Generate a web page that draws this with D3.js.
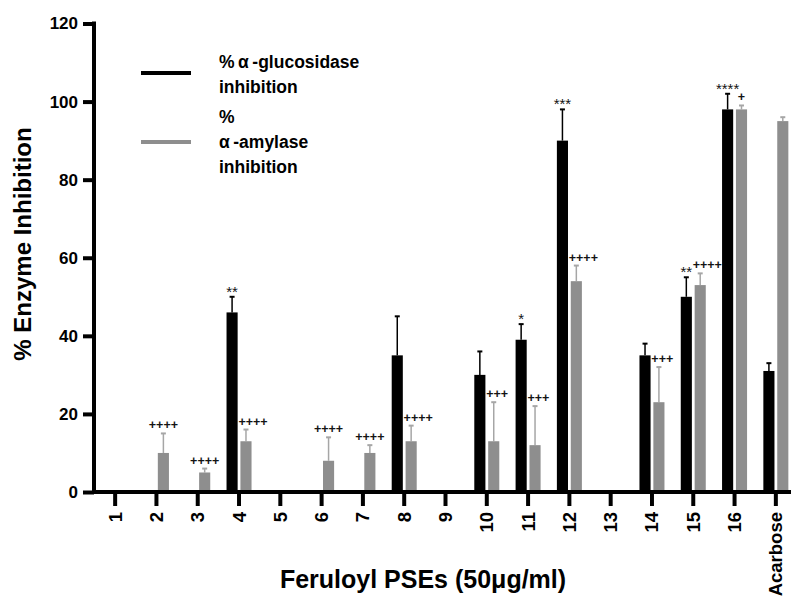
<!DOCTYPE html>
<html>
<head>
<meta charset="utf-8">
<script src="https://cdn.jsdelivr.net/npm/d3@7"></script>
<style>
body{margin:0;background:#fff;}
text{font-family:"Liberation Sans",Arial,sans-serif;}
</style>
</head>
<body>
<script>
var w=791;
var h=597;

// data
var categories=["1","2","3","4","5","6","7","8","9","10","11","12","13","14","15","16","Acarbose"];
var series=["glucosidase","amylase"];
var glucMean=[0,0,0,46,0,0,0,35,0,30,39,90,0,35,50,98,31];
var glucErr =[0,0,0,4,0,0,0,10,0,6,4,8,0,3,5,4,2];
var amyMean =[0,10,5,13,0,8,10,13,0,13,12,54,0,23,53,98,95];
var amyErr  =[0,5,1,3,0,6,2,4,0,10,10,4,0,9,3,1,1];
var glucMarks=["","","","**","","","","","","","*","***","","","**","****",""];
var amyMarks =["","++++","++++","++++","","++++","++++","++++","","+++","+++","++++","","+++","++++","+",""];
var yTicks=[0,20,40,60,80,100,120];

var colors={glucosidase:"#000",amylase:"#8e8e8e"};
var errColors={glucosidase:"#000",amylase:"#a6a6a6"};

var svg=d3.select("body").append("svg")
	.attr("width",w)
	.attr("height",h);

var y=d3.scaleLinear().domain([0,120]).range([492,23.5]);
var x=d3.scaleBand().domain(categories).range([94.5,796.5]).padding(0);
var xs=d3.scaleBand().domain(series).range([-12.5,12.5]).paddingInner(0.2);

// build rows for bars
var rows=[];
categories.forEach(function(c,i){
	rows.push({cat:c,s:"glucosidase",v:glucMean[i],e:glucErr[i],m:glucMarks[i],pair:amyMean[i]>0});
	rows.push({cat:c,s:"amylase",v:amyMean[i],e:amyErr[i],m:amyMarks[i],pair:glucMean[i]>0});
});
var shown=rows.filter(function(d){return d.v>0;});

function left(d){ return x(d.cat)+x.bandwidth()/2+xs(d.s); }
function cx(d){ return left(d)+xs.bandwidth()/2; }

// error bars under bars
var eb=svg.append("g").attr("id","errors");
eb.selectAll("line.v").data(shown).enter().append("line")
	.attr("x1",cx).attr("x2",cx)
	.attr("y1",function(d){return y(d.v);})
	.attr("y2",function(d){return y(d.v+d.e);})
	.attr("stroke",function(d){return errColors[d.s];})
	.attr("stroke-width",1.5);
eb.selectAll("line.c").data(shown).enter().append("line")
	.attr("x1",function(d){return cx(d)-2.5;})
	.attr("x2",function(d){return cx(d)+2.5;})
	.attr("y1",function(d){return y(d.v+d.e);})
	.attr("y2",function(d){return y(d.v+d.e);})
	.attr("stroke",function(d){return errColors[d.s];})
	.attr("stroke-width",2);

svg.append("g").attr("id","bars").selectAll("rect").data(shown).enter().append("rect")
	.attr("x",left)
	.attr("width",xs.bandwidth())
	.attr("y",function(d){return y(d.v);})
	.attr("height",function(d){return y(0)-y(d.v);})
	.attr("fill",function(d){return colors[d.s];});

// significance marks (plus signs next to a black bar start at the grey bar)
svg.append("g").attr("id","marks").style("opacity",0.99)
	.selectAll("text").data(shown.filter(function(d){return d.m;})).enter().append("text")
	.each(function(d){
		var plus=d.m.charAt(0)=="+";
		var shift=plus && d.pair && d.m.length>1;
		d3.select(this)
			.attr("x",shift?left(d)-2:cx(d))
			.attr("y",y(d.v+d.e)-(plus?4:0))
			.attr("text-anchor",shift?"start":"middle")
			.attr("font-size",plus?12.5:15)
			.attr("font-weight",plus?"bold":"normal")
			.text(d.m);
	})
	.attr("fill","#111");

// axes
var yAxis=svg.append("g").attr("transform","translate(94,0)")
	.call(d3.axisLeft(y).tickValues(yTicks).tickSize(11).tickSizeOuter(0).tickPadding(5));
yAxis.select(".domain").attr("stroke-width",4).attr("d","M0,"+(y(120)-2)+"V"+(y(0)+2));
yAxis.selectAll(".tick line").attr("stroke-width",4);
yAxis.selectAll(".tick text").attr("font-size",17).attr("font-weight","bold")
	.attr("font-family","Liberation Sans, Arial, sans-serif").attr("fill","#000");

var xAxis=svg.append("g").attr("transform","translate(0,"+y(0)+")")
	.call(d3.axisBottom(x).tickSize(14).tickSizeOuter(0));
xAxis.select(".domain").remove();
xAxis.selectAll(".tick line").attr("stroke-width",4);
xAxis.selectAll(".tick text")
	.attr("font-size",18.5).attr("font-weight","bold")
	.attr("font-family","Liberation Sans, Arial, sans-serif").attr("fill","#000")
	.attr("text-anchor","end")
	.attr("transform","rotate(-90)")
	.attr("x",-20).attr("y",0).attr("dy","0.35em");
svg.append("line").attr("x1",92).attr("x2",w)
	.attr("y1",y(0)).attr("y2",y(0))
	.attr("stroke","#000").attr("stroke-width",4);

// axis titles
svg.append("text")
	.attr("transform","translate(31,244) rotate(-90)")
	.attr("text-anchor","middle")
	.attr("font-size",24).attr("font-weight","bold")
	.text("% Enzyme Inhibition");
svg.append("text")
	.attr("x",423).attr("y",588)
	.attr("text-anchor","middle")
	.attr("font-size",25).attr("font-weight","bold")
	.text("Feruloyl PSEs (50\u03bcg/ml)");

// legend
var legend=[
	{s:"glucosidase",ly:73,lines:["%\u2009\u03b1\u2009-glucosidase","inhibition"],ty:68},
	{s:"amylase",ly:142,lines:["%","\u03b1\u2009-amylase","inhibition"],ty:123}
];
var lg=svg.append("g").attr("id","legend");
legend.forEach(function(l){
	lg.append("line").attr("x1",141).attr("x2",191)
		.attr("y1",l.ly).attr("y2",l.ly)
		.attr("stroke",colors[l.s]).attr("stroke-width",4);
	l.lines.forEach(function(t,i){
		lg.append("text").attr("x",219).attr("y",l.ty+i*25)
			.attr("font-size",17.5).attr("font-weight","bold")
			.text(t);
	});
});
</script>
</body>
</html>
